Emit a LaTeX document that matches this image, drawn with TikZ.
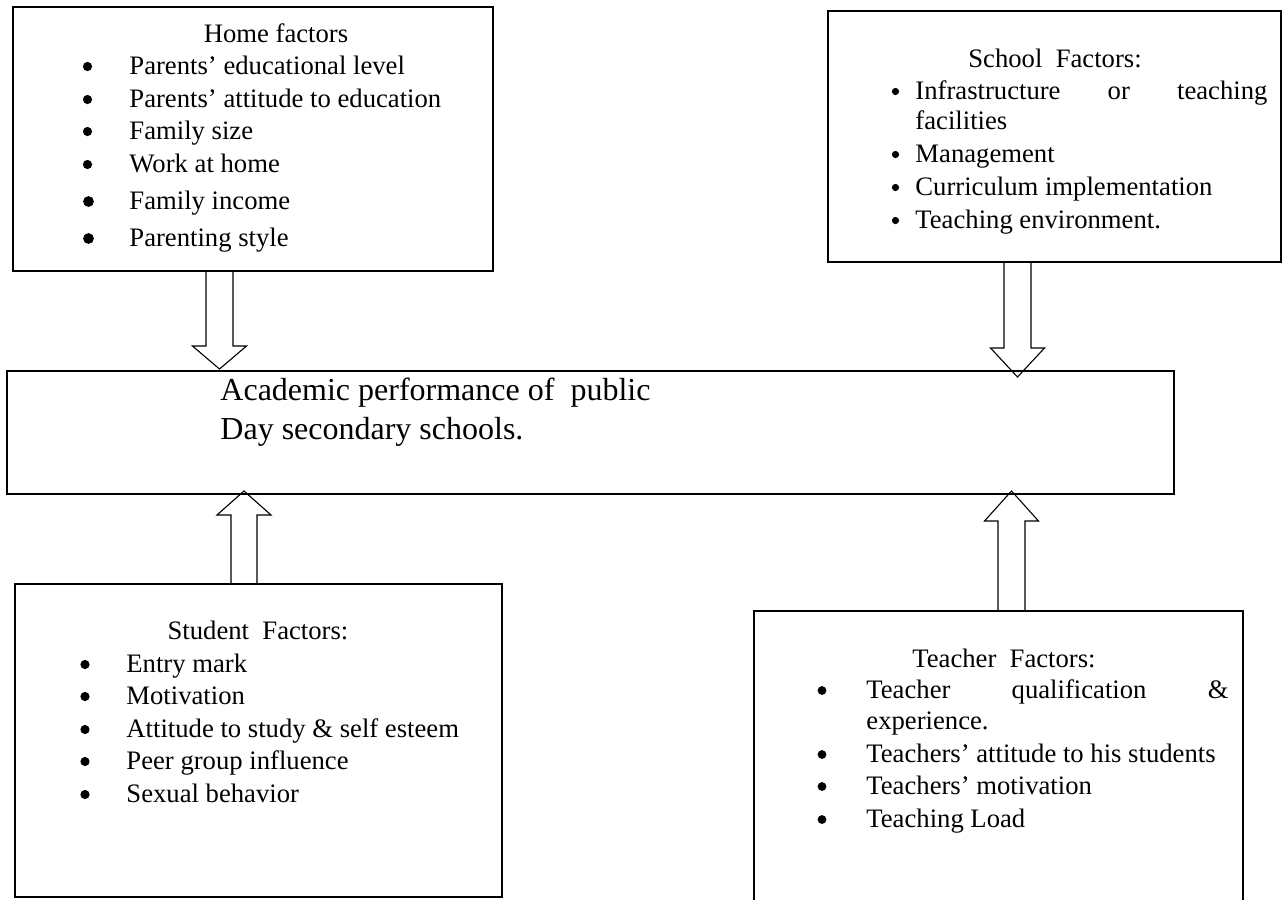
\documentclass[tikz,border=0pt]{standalone}
\usepackage{fontspec}
\setmainfont{Liberation Serif}
\usetikzlibrary{calc}

\newlength{\pxu}
\setlength{\pxu}{0.45pt}

% block arrow: start, tip, head length, shaft half width, head half width
\newcommand{\fatarrow}[5]{%
  \draw[fat] ($(#1)+(-#4,0)$) -- ($(#2)+(-#4,#3)$) -- ($(#2)+(-#5,#3)$) -- (#2)
    -- ($(#2)+(#5,#3)$) -- ($(#2)+(#4,#3)$) -- ($(#1)+(#4,0)$) -- cycle;}

% one bulleted line: [bullet radius] name, bullet x, baseline, text x, text
\newcommand{\factor}[6][4.6]{%
  \fill[black] (#3,#4-7.5) circle [radius=#1\pxu];
  \node[item] (#2) at (#5,#4) {#6};}

\begin{document}
\begin{tikzpicture}[
		x=\pxu, y=-\pxu,
		box/.style = {draw, line width=0.9pt, rectangle, anchor=north west, inner sep=0pt, outer sep=0pt},
		title/.style = {anchor=base, inner sep=0pt, font=\fontsize{12}{14}\selectfont},
		item/.style = {anchor=base west, inner sep=0pt, font=\fontsize{12}{14}\selectfont},
		perftext/.style = {anchor=base west, inner sep=0pt, font=\fontsize{14.4}{17}\selectfont},
		fat/.style = {draw, line width=0.5pt, line join=miter}
	]
	\useasboundingbox (0,0) rectangle (1283,899);
	\clip (0,0) rectangle (1283,899);

	% Boxes.
	\node[box, minimum width=480\pxu, minimum height=264\pxu] (home) at (13,7) {};
	\node[box, minimum width=453\pxu, minimum height=251\pxu] (school) at (828,11) {};
	\node[box, minimum width=1167\pxu, minimum height=123\pxu] (perf) at (7,371) {};
	\node[box, minimum width=487\pxu, minimum height=313\pxu] (student) at (15,584) {};
	\node[box, minimum width=489\pxu, minimum height=320\pxu] (teacher) at (754,611) {};

	% Home factors.
	\node[title] (hT) at (276,42) {Home factors};
	\factor{h1}{87.5}{74}{129}{Parents’ educational level}
	\factor{h2}{87.5}{107}{129}{Parents’ attitude to education}
	\factor{h3}{87.5}{139}{129}{Family size}
	\factor{h4}{87.5}{172}{129}{Work at home}
	\factor[5.4]{h5}{88.5}{209}{129}{Family income}
	\factor[5.4]{h6}{88.5}{246}{129}{Parenting style}

	% School factors.
	\node[title] (sT) at (1055,67) {School\ \ Factors:};
	\factor[3.6]{s1}{895.5}{99}{915}{\makebox[352\pxu][s]{Infrastructure\hfill or\hfill teaching}}
	\node[item] (s1b) at (915,129) {facilities};
	\factor[3.6]{s2}{895.5}{162}{915}{Management}
	\factor[3.6]{s3}{895.5}{195}{915}{Curriculum implementation}
	\factor[3.6]{s4}{895.5}{228}{915}{Teaching environment.}

	% Performance.
	\node[perftext] (p1) at (220,400) {Academic performance of\ \ public};
	\node[perftext] (p2) at (220,439) {Day secondary schools.};

	% Student factors.
	\node[title] (stT) at (258,639) {Student\ \ Factors:};
	\factor{st1}{85}{672}{126}{Entry mark}
	\factor{st2}{85}{704}{126}{Motivation}
	\factor{st3}{85}{737}{126}{Attitude to study \& self esteem}
	\factor{st4}{85}{769}{126}{Peer group influence}
	\factor{st5}{85}{802}{126}{Sexual behavior}

	% Teacher factors.
	\node[title] (tT) at (1004,667) {Teacher\ \ Factors:};
	\factor[4.4]{t1}{822}{698}{866}{\makebox[362\pxu][s]{Teacher\hfill qualification\hfill \&}}
	\node[item] (t1b) at (866,729) {experience.};
	\factor[4.4]{t2}{822}{762}{866}{Teachers’ attitude to his students}
	\factor[4.4]{t3}{822}{794}{866}{Teachers’ motivation}
	\factor[4.4]{t4}{822}{827}{866}{Teaching Load}

	% Arrows.
	\coordinate (hTip) at (219.5,369);
	\coordinate (sTip) at (1017.5,377);
	\coordinate (stTip) at (244,491);
	\coordinate (tTip) at (1011.5,491);
	\fatarrow{hTip |- home.south}{hTip}{-23}{13.5}{27}
	\fatarrow{sTip |- school.south}{sTip}{-29}{13.5}{27}
	\fatarrow{stTip |- student.north}{stTip}{24}{13}{27}
	\fatarrow{tTip |- teacher.north}{tTip}{30}{13.5}{27}
\end{tikzpicture}
\end{document}
